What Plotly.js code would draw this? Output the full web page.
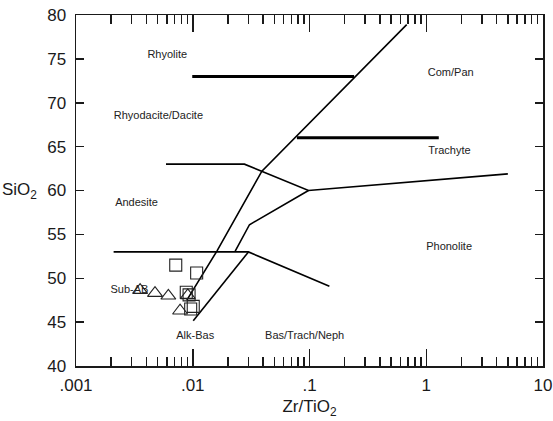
<!DOCTYPE html>
<html>
<head>
<meta charset="utf-8">
<script src="https://cdn.plot.ly/plotly-3.0.1.min.js"></script>
<style>html,body{margin:0;padding:0;background:#fff;}#chart{width:553px;height:421px;}</style>
</head>
<body>
<div id="chart"></div>
<script>
// ---- Data ----
// Bold boundary lines
const line73X = [0.0099, 0.241];
const line73Y = [73, 73];
const line66X = [0.078, 1.28];
const line66Y = [66, 66];
// Thin boundary lines
const line63X = [0.0059, 0.0277, 0.098, 5.0];
const line63Y = [63, 63, 60, 61.9];
const lineAX = [0.0089, 0.0161, 0.0391, 0.68];
const lineAY = [47.5, 53.1, 62.2, 78.9];
const lineBX = [0.0231, 0.0306, 0.098];
const lineBY = [53.1, 56.1, 60];
const line53X = [0.0021, 0.030, 0.148];
const line53Y = [53, 53, 49.1];
const lineDX = [0.0101, 0.030];
const lineDY = [45.15, 53];

// Samples
const squareX = [0.00715, 0.0108, 0.0088, 0.0093, 0.0101, 0.0096];
const squareY = [51.5, 50.6, 48.4, 48.1, 46.8, 46.5];
const triangleX = [0.00354, 0.00475, 0.00618, 0.00907, 0.00779];
const triangleY = [48.65, 48.3, 48.0, 48.05, 46.3];

// Field labels
const fieldNames = ["Rhyolite", "Rhyodacite/Dacite", "Andesite", "Com/Pan", "Trachyte",
                    "Phonolite", "Sub-AB", "Alk-Bas", "Bas/Trach/Neph"];
const fieldX = [0.00605, 0.00508, 0.0033, 1.62, 1.58, 1.57, 0.00287, 0.0105, 0.0909];
const fieldY = [75.4, 68.45, 58.5, 73.35, 64.45, 53.5, 48.6, 43.35, 43.35];

// Axis ticks
const xTickVals = [0.001, 0.01, 0.1, 1, 10];
const xTickText = [".001", ".01", ".1", "1", "10"];
const yLongTicks = [50, 75];

// ---- Build ----
const FONT = "Liberation Sans, Arial, Helvetica, sans-serif";
const INK = "#1a1a1a";
const xMinor = [];
for (let d = 0; d < xTickVals.length - 1; d++) {
  for (let m = 2; m <= 9; m++) xMinor.push(+(xTickVals[d] * m).toPrecision(6));
}

function seg(x, y, w) {
  return {x: x, y: y, type: "scatter", mode: "lines", hoverinfo: "skip",
          line: {color: "#000", width: w}, showlegend: false};
}

const traces = [
  seg(line73X, line73Y, 3),
  seg(line66X, line66Y, 3),
  seg(line63X, line63Y, 1.6),
  seg(lineAX, lineAY, 1.6),
  seg(lineBX, lineBY, 1.6),
  seg(line53X, line53Y, 1.6),
  seg(lineDX, lineDY, 1.6),
  {x: fieldX, y: fieldY, text: fieldNames, type: "scatter", mode: "text",
   textposition: "middle center", textfont: {family: FONT, size: 11, color: "#222"},
   showlegend: false, hoverinfo: "skip"},
  {x: triangleX, y: triangleY, type: "scatter", mode: "markers", showlegend: false,
   marker: {symbol: "triangle-up-open", size: 13, color: "#222", line: {width: 1.1, color: "#222"}}},
  {x: squareX, y: squareY, type: "scatter", mode: "markers", showlegend: false,
   marker: {symbol: "square-open", size: 12, color: "#222", line: {width: 1.1, color: "#222"}}}
];

const layout = {
  width: 553, height: 421,
  margin: {l: 76, r: 10, t: 15, b: 55},
  paper_bgcolor: "#fff", plot_bgcolor: "#fff",
  font: {family: FONT, color: INK},
  showlegend: false,
  xaxis: {
    type: "log", range: [-3, 1], showgrid: false, zeroline: false,
    showline: true, linecolor: INK, linewidth: 1.5, mirror: "ticks",
    ticks: "inside", ticklen: 17, tickwidth: 1.5, tickcolor: INK,
    tickmode: "array", tickvals: xTickVals, ticktext: xTickText,
    tickfont: {family: FONT, size: 17, color: INK}, ticklabelstandoff: 3,
    minor: {tickmode: "array", tickvals: xMinor, ticks: "inside", ticklen: 9,
            tickwidth: 1.5, tickcolor: INK, showgrid: false},
    title: {text: "Zr/TiO<sub>2</sub>", font: {family: FONT, size: 17, color: INK}, standoff: 6}
  },
  yaxis: {
    range: [40, 80], showgrid: false, zeroline: false,
    showline: true, linecolor: INK, linewidth: 1.5, mirror: "ticks",
    ticks: "inside", ticklen: 8, tickwidth: 1.5, tickcolor: INK,
    dtick: 5, tick0: 40, ticklabelstandoff: 5,
    tickfont: {family: FONT, size: 17, color: INK}
  },
  yaxis2: {
    range: [40, 80], overlaying: "y", side: "left", showgrid: false, zeroline: false,
    showline: false, mirror: "ticks", ticks: "inside", ticklen: 16, tickwidth: 1.5,
    tickcolor: INK, tickmode: "array", tickvals: yLongTicks, showticklabels: false
  },
  annotations: [{
    text: "SiO<sub>2</sub>", xref: "paper", yref: "y", x: -0.08, y: 60,
    xanchor: "right", yanchor: "middle", showarrow: false,
    font: {family: FONT, size: 17, color: INK}
  }]
};

Plotly.newPlot("chart", traces, layout, {displayModeBar: false, staticPlot: true});
</script>
</body>
</html>
